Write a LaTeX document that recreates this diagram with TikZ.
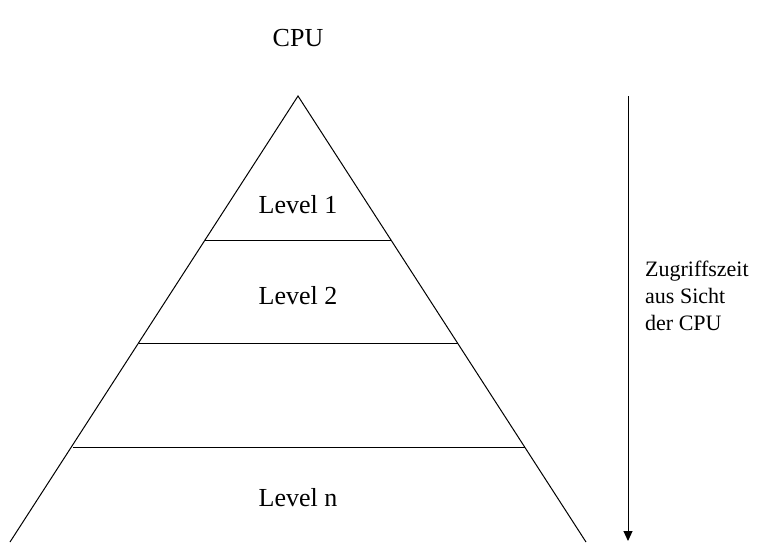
\documentclass[tikz,border=0pt]{standalone}
\usepackage{fontspec}
\setmainfont{Liberation Serif}
\usetikzlibrary{arrows.meta, positioning}

\begin{document}
\begin{tikzpicture}[
  x=1pt, y=-1pt,
  levellabel/.style={font=\fontsize{26}{31}\selectfont, inner sep=0pt},
  sidelabel/.style={font=\fontsize{22}{27}\selectfont, align=left, inner sep=0pt},
  edge/.style={line width=1pt},
  timearrow/.style={line width=1pt, -{Triangle[length=10pt, width=9pt]}}
]
  \useasboundingbox (0,0) rectangle (758,542);
  % pyramid corners
  \coordinate (top) at (298,96);
  \coordinate (bl) at (10,542);
  \coordinate (br) at (586,542);
  \draw[edge] (bl) -- (top) -- (br);
  % level separators
  \coordinate (s1l) at (205,240); \coordinate (s1r) at (391,240);
  \coordinate (s2l) at (139,343); \coordinate (s2r) at (458,343);
  \coordinate (s3l) at (73,447);  \coordinate (s3r) at (525,447);
  \draw[edge] (s1l) -- (s1r);
  \draw[edge] (s2l) -- (s2r);
  \draw[edge] (s3l) -- (s3r);
  % labels
  \node[levellabel] (cpu) at (298,38) {CPU};
  \node[levellabel] (lvone) at (298,205) {Level 1};
  \node[levellabel] (lvtwo) at (298,296) {Level 2};
  \node[levellabel] (lvn) at (298,498) {Level n};
  % access time
  \coordinate (tstart) at (628,96);
  \coordinate (tend) at (628,541);
  \draw[timearrow] (tstart) -- (tend);
  \node[sidelabel, anchor=west] (zeit) at (645,296) {Zugriffszeit\\aus Sicht\\der CPU};
\end{tikzpicture}
\end{document}
